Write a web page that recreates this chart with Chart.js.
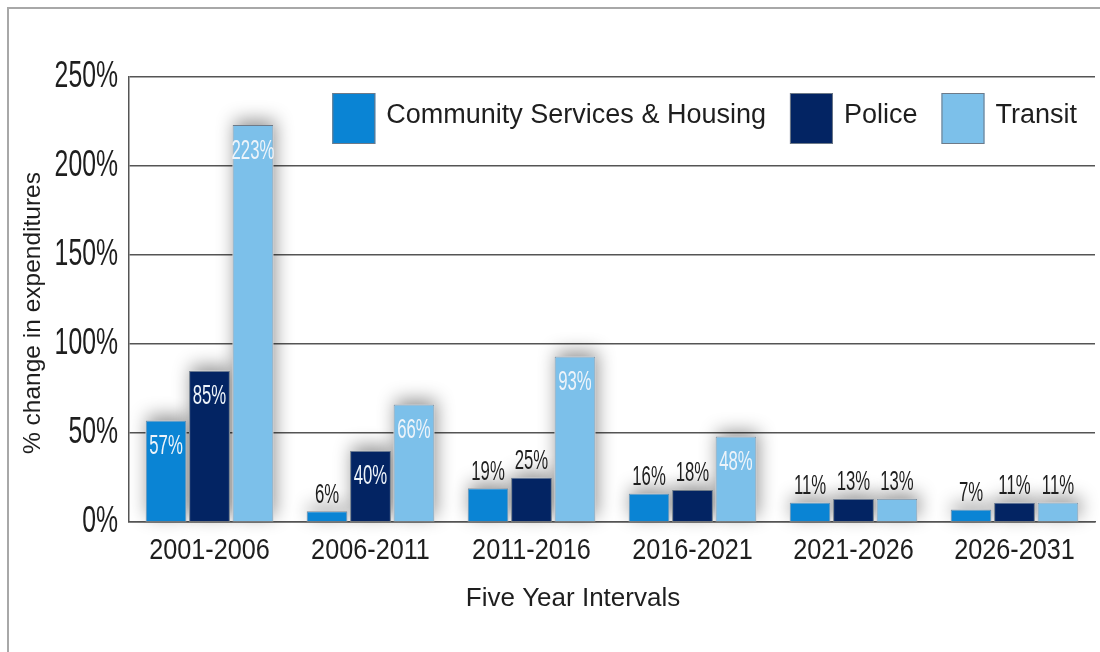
<!DOCTYPE html>
<html>
<head>
<meta charset="utf-8">
<script src="https://cdn.jsdelivr.net/npm/chart.js@4.4.0/dist/chart.umd.min.js"></script>
<style>
  html, body { margin: 0; padding: 0; background: #fff; }
</style>
</head>
<body>
<canvas id="expChart" width="1100" height="652"></canvas>
<script>
const intervals = ["2001-2006", "2006-2011", "2011-2016", "2016-2021", "2021-2026", "2026-2031"];
const communityHousing = [57, 6, 19, 16, 11, 7];
const police = [85, 40, 25, 18, 13, 11];
const transit = [223, 66, 93, 48, 13, 11];
const yTicks = [0, 50, 100, 150, 200, 250];

const FONT = "'Liberation Sans', Arial, sans-serif";
const TEXT = "#1e1e1e";

// canvas text squeezed horizontally, to get a condensed face out of a regular one
function squeezed(ctx, text, x, y, align, sx) {
  ctx.save();
  ctx.translate(x, y);
  ctx.scale(sx, 1);
  ctx.textAlign = align;
  ctx.fillText(text, 0, 0);
  ctx.restore();
}

// soft shadow under each bar (bar drawing clips to its own rect, so cast it first)
const barShadow = {
  id: "barShadow",
  beforeDatasetsDraw(chart) {
    const ctx = chart.ctx;
    ctx.save();
    ctx.shadowColor = "rgba(0, 0, 0, 0.42)";
    ctx.shadowBlur = 18;
    ctx.shadowOffsetX = 2;
    ctx.shadowOffsetY = -5;
    ctx.fillStyle = "#fff";
    chart.data.datasets.forEach((ds, i) => {
      chart.getDatasetMeta(i).data.forEach(bar => {
        const { x, y, base, width } = bar.getProps(["x", "y", "base", "width"], true);
        ctx.fillRect(x - width / 2, y, width, base - y);
      });
    });
    ctx.restore();
  }
};

// value labels: white inside tall bars, dark above short ones
const barLabels = {
  id: "barLabels",
  afterDatasetsDraw(chart) {
    const ctx = chart.ctx;
    ctx.save();
    ctx.textBaseline = "middle";
    ctx.font = "27px " + FONT;
    chart.data.datasets.forEach((ds, i) => {
      chart.getDatasetMeta(i).data.forEach((bar, j) => {
        const inside = bar.base - bar.y > 60;
        ctx.fillStyle = inside ? "#eef4fa" : TEXT;
        squeezed(ctx, ds.data[j] + "%", bar.x, inside ? bar.y + 26 : bar.y - 16, "center", 0.62);
      });
    });
    ctx.restore();
  }
};

// condensed tick labels, placed from the library's own scale ticks
const condensedTicks = {
  id: "condensedTicks",
  afterDraw(chart) {
    const { ctx, scales: { x, y } } = chart;
    ctx.save();
    ctx.fillStyle = TEXT;
    ctx.textBaseline = "middle";
    ctx.font = "37px " + FONT;
    y.ticks.forEach((t, i) => {
      squeezed(ctx, t.value + "%", y.right - 11, y.getPixelForTick(i), "right", 0.67);
    });
    ctx.font = "29px " + FONT;
    x.ticks.forEach((t, i) => {
      squeezed(ctx, intervals[t.value], x.getPixelForTick(i), x.top + 29, "center", 0.87);
    });
    ctx.restore();
  }
};

// legend row in the top right corner of the plot
const insideLegend = {
  id: "insideLegend",
  afterDraw(chart) {
    const { ctx, chartArea } = chart;
    const boxW = 43, boxH = 51, textGap = 11, itemGap = 24;
    ctx.save();
    ctx.font = "27px " + FONT;
    ctx.textBaseline = "middle";
    ctx.textAlign = "left";
    const items = chart.data.datasets.map(ds => ({
      ds, w: boxW + textGap + ctx.measureText(ds.label).width
    }));
    const total = items.reduce((s, it) => s + it.w, 0) + itemGap * (items.length - 1);
    let x = chartArea.right - 18 - total;
    const top = chartArea.top + 16;
    items.forEach(it => {
      ctx.fillStyle = it.ds.backgroundColor;
      ctx.fillRect(x, top, boxW, boxH);
      ctx.strokeStyle = it.ds.borderColor;
      ctx.lineWidth = 1;
      ctx.strokeRect(x + 0.5, top + 0.5, boxW - 1, boxH - 1);
      ctx.fillStyle = TEXT;
      ctx.fillText(it.ds.label, x + boxW + textGap, top + 23);
      x += it.w + itemGap;
    });
    ctx.restore();
  }
};

// outer frame and the two axis titles
const frameAndTitles = {
  id: "frameAndTitles",
  beforeDraw(chart) {
    const ctx = chart.ctx;
    ctx.save();
    ctx.strokeStyle = "#a8a8a8";
    ctx.lineWidth = 2;
    ctx.beginPath();
    ctx.moveTo(8, chart.height);
    ctx.lineTo(8, 8);
    ctx.lineTo(chart.width, 8);
    ctx.stroke();
    ctx.restore();
  },
  afterDraw(chart) {
    const ctx = chart.ctx;
    ctx.save();
    ctx.fillStyle = TEXT;
    ctx.textAlign = "center";
    ctx.textBaseline = "middle";
    ctx.font = "26px " + FONT;
    ctx.fillText("Five Year Intervals", 573, 599);
    ctx.translate(33, 313);
    ctx.rotate(-Math.PI / 2);
    ctx.font = "24.5px " + FONT;
    ctx.fillText("% change in expenditures", 0, 0);
    ctx.restore();
  }
};

const barStyle = {
  borderColor: "#6e7a88",
  borderWidth: 1,
  categoryPercentage: 0.81,
  barPercentage: 0.94
};

new Chart(document.getElementById("expChart"), {
  type: "bar",
  data: {
    labels: intervals,
    datasets: [
      { label: "Community Services & Housing", data: communityHousing, backgroundColor: "#0a84d4", ...barStyle },
      { label: "Police", data: police, backgroundColor: "#032463", ...barStyle },
      { label: "Transit", data: transit, backgroundColor: "#7cc0ea", ...barStyle }
    ]
  },
  options: {
    responsive: false,
    animation: false,
    layout: { padding: { top: 77, right: 5, left: 0, bottom: 0 } },
    plugins: {
      tooltip: { enabled: false },
      legend: { display: false }
    },
    scales: {
      x: {
        grid: { display: false, drawTicks: false },
        border: { color: "#555", width: 1.5 },
        ticks: { display: false },
        afterFit(scale) { scale.height = 130; }
      },
      y: {
        min: yTicks[0],
        max: yTicks[yTicks.length - 1],
        grid: { color: "#555", lineWidth: 1.5, drawTicks: false },
        border: { color: "#555", width: 1.5 },
        ticks: {
          display: false,
          stepSize: yTicks[1] - yTicks[0],
          callback: v => v + "%"
        },
        afterFit(scale) { scale.width = 129; }
      }
    }
  },
  plugins: [barShadow, barLabels, condensedTicks, insideLegend, frameAndTitles]
});
</script>
</body>
</html>
